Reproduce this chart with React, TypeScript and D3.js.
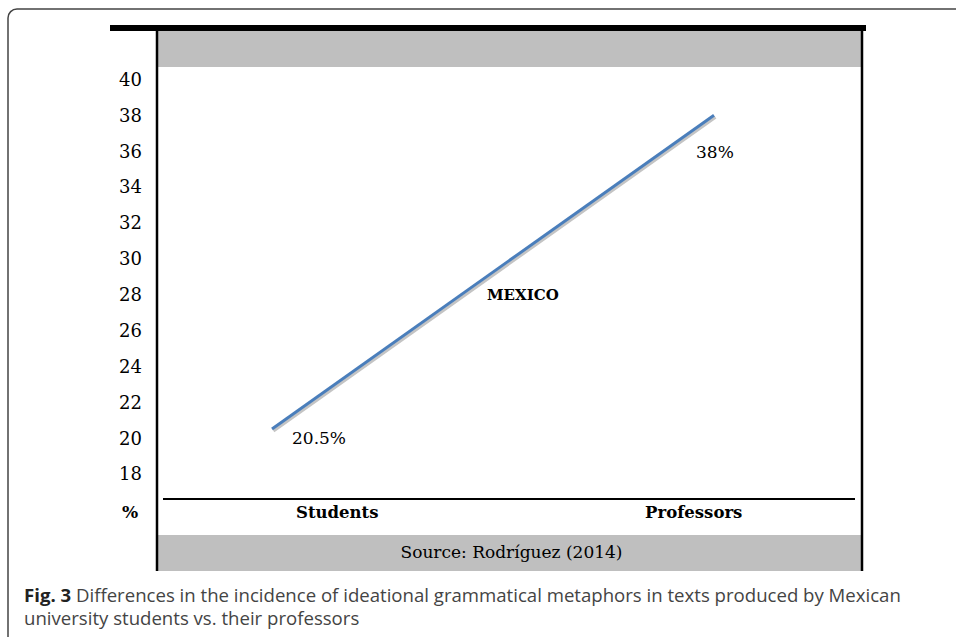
import * as d3 from 'd3'

// values
const categories = ['Students', 'Professors']
const values = [20.5, 38]
const valueLabels = ['20.5%', '38%']
const seriesName = 'MEXICO'
const yTicks = [18, 20, 22, 24, 26, 28, 30, 32, 34, 36, 38, 40]
const sourceText = 'Source: Rodríguez (2014)'
const captionBold = 'Fig. 3'
const captionLine1 = ' Differences in the incidence of ideational grammatical metaphors in texts produced by Mexican'
const captionLine2 = 'university students vs. their professors'

const W = 956, H = 637
const SERIF = '"DejaVu Serif", serif'
const SANS = '"Open Sans", "Noto Sans", sans-serif'

export default function App() {
  // plot box (inside the two vertical rules)
  const left = 157, right = 862
  const y = d3.scaleLinear().domain([20, 40]).range([438, 79.3])
  const xCat = d3.scaleBand().domain(categories).range([left + 2, right + 10])
  const xLine = d3.scalePoint().domain(categories).range([272, 714])

  const pts = categories.map((c, i) => [xLine(c) as number, y(values[i])] as [number, number])
  const line = d3.line()
  const shadow = pts.map(([px, py]) => [px + 1.5, py + 2] as [number, number])
  const mid = [(pts[0][0] + pts[1][0]) / 2, (pts[0][1] + pts[1][1]) / 2]

  // offsets of the data labels from their points
  const labelOffsets = [[20, 9], [-18, 37]]

  return (
    <svg width={W} height={H} style={{ position: 'absolute', left: 0, top: 0, background: '#fff' }}>
      {/* outer figure frame */}
      <rect x={8} y={9} width={1000} height={700} rx={9} fill="none" stroke="#444" strokeWidth={1.5} />

      {/* heavy top rule and grey header band */}
      <rect x={110} y={25} width={756} height={6} fill="#000" />
      <rect x={left + 1} y={31} width={right - left - 1} height={36} fill="#bfbfbf" />
      {/* grey source band */}
      <rect x={left + 1} y={535} width={right - left - 1} height={36} fill="#bfbfbf" />
      <text x={(left + right) / 2 + 2} y={552} textAnchor="middle" dominantBaseline="central"
        fontFamily={SERIF} fontSize={17} fill="#000">{sourceText}</text>

      {/* vertical rules */}
      <line x1={left} x2={left} y1={31} y2={571} stroke="#000" strokeWidth={2.5} />
      <line x1={right} x2={right} y1={31} y2={571} stroke="#000" strokeWidth={2.5} />

      {/* x baseline */}
      <line x1={163} x2={855} y1={499} y2={499} stroke="#000" strokeWidth={2} />

      {/* y tick labels */}
      {yTicks.map(t => (
        <text key={t} x={142} y={y(t)} textAnchor="end" dominantBaseline="central"
          fontFamily={SERIF} fontSize={18} fill="#000">{t}</text>
      ))}
      <text x={130} y={512} textAnchor="middle" dominantBaseline="central"
        fontFamily={SERIF} fontSize={17} fontWeight="bold" fill="#000">%</text>

      {/* category labels */}
      {categories.map(c => (
        <text key={c} x={(xCat(c) as number) + xCat.bandwidth() / 2} y={512}
          textAnchor="middle" dominantBaseline="central"
          fontFamily={SERIF} fontSize={16.5} fontWeight="bold" fill="#000">{c}</text>
      ))}

      {/* the series, with its soft shadow */}
      <path d={line(shadow) || ''} fill="none" stroke="#c4c4c4" strokeWidth={3} />
      <path d={line(pts) || ''} fill="none" stroke="#4a7ebb" strokeWidth={3} />

      {pts.map(([px, py], i) => (
        <text key={i} x={px + labelOffsets[i][0]} y={py + labelOffsets[i][1]} dominantBaseline="central"
          fontFamily={SERIF} fontSize={17} fill="#000">{valueLabels[i]}</text>
      ))}
      <text x={mid[0] - 6} y={mid[1] + 23} dominantBaseline="central"
        fontFamily={SERIF} fontSize={15} fontWeight="bold" fill="#000">{seriesName}</text>

      {/* caption */}
      <text x={24} y={602} fontFamily={SANS} fontSize={18.6} fill="#444">
        <tspan fontWeight="bold" fill="#222">{captionBold}</tspan>
        <tspan>{captionLine1}</tspan>
      </text>
      <text x={24} y={625} fontFamily={SANS} fontSize={18.6} fill="#444">{captionLine2}</text>
    </svg>
  )
}
